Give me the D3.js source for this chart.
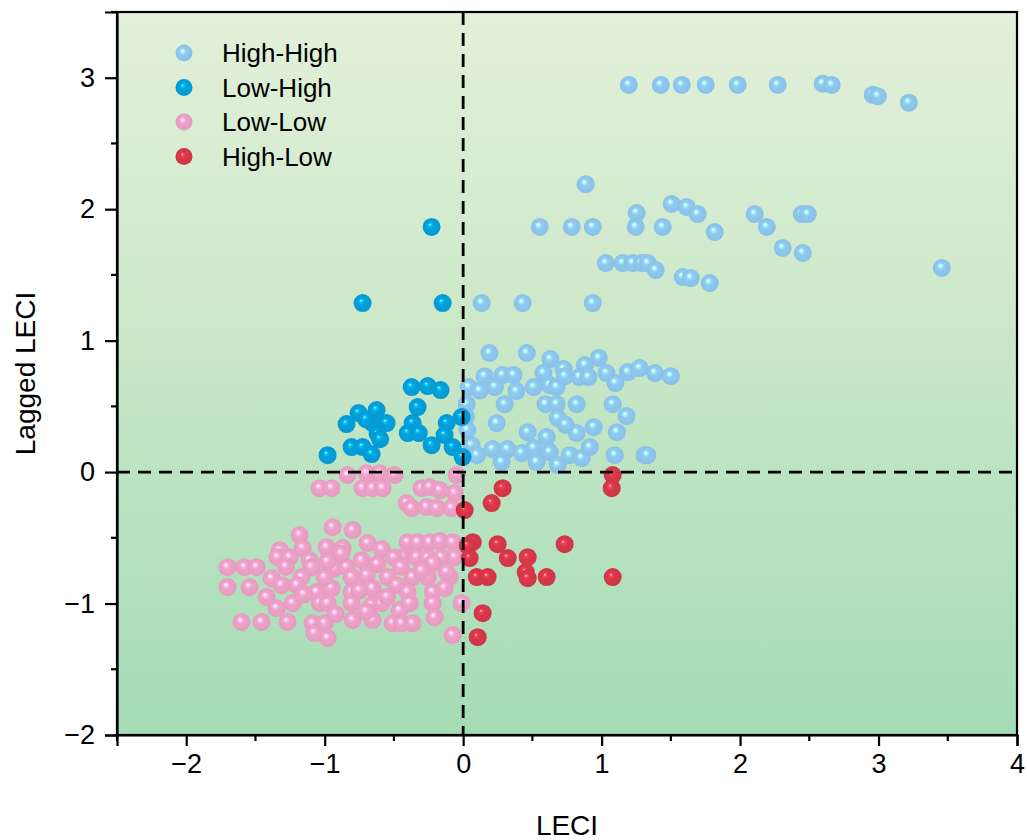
<!DOCTYPE html>
<html>
<head>
<meta charset="utf-8">
<script src="https://cdn.jsdelivr.net/npm/d3@7"></script>
<style>
  body { margin: 0; background: #fff; }
  svg text { font-family: "Liberation Sans", Arial, sans-serif; }
</style>
</head>
<body>
<svg id="chart" width="1027" height="840"></svg>
<script>
// ---------- data ----------
const categories = ["High-High", "Low-High", "Low-Low", "High-Low"];
const colors = ["#8fcaf1", "#05a0dc", "#efa2c8", "#d8384a"];

const highHigh = [
  [1.196,2.945],[1.427,2.945],[1.579,2.945],[1.752,2.945],[1.983,2.945],[2.272,2.945],
  [2.597,2.955],[2.662,2.945],[2.958,2.87],[2.995,2.86],[3.219,2.81],
  [0.885,2.19],[0.553,1.865],[0.784,1.865],[0.936,1.865],[1.246,1.865],[1.253,1.971],
  [1.441,1.865],[1.506,2.04],[1.615,2.017],[1.694,1.963],[1.817,1.826],[2.106,1.963],
  [2.193,1.865],[2.446,1.963],[2.489,1.963],[2.308,1.705],[2.453,1.667],[3.457,1.553],
  [1.030,1.59],[1.152,1.59],[1.225,1.59],[1.29,1.59],[1.333,1.59],[1.391,1.537],
  [1.586,1.484],[1.644,1.476],[1.781,1.438],[0.134,1.286],[0.43,1.286],[0.936,1.286],
  [0.19,0.906],[0.46,0.906],[0.63,0.86],[0.98,0.868],[0.04,0.647],[0.155,0.73],
  [0.285,0.738],[0.365,0.738],[0.23,0.647],[0.385,0.616],[0.51,0.647],[0.58,0.753],
  [0.725,0.784],[0.625,0.662],[0.675,0.647],[0.735,0.73],[0.88,0.814],[0.84,0.723],
  [0.905,0.723],[1.035,0.753],[1.10,0.677],[1.19,0.761],[1.275,0.791],[1.385,0.753],
  [1.50,0.73],[0.025,0.517],[0.30,0.517],[0.595,0.517],[0.675,0.517],[0.82,0.517],
  [1.08,0.517],[0.683,0.411],[1.18,0.426],[0.242,0.373],[0.466,0.304],[0.603,0.266],
  [0.82,0.297],[0.943,0.342],[1.11,0.304],[0.06,0.205],[0.10,0.129],[0.213,0.175],
  [0.32,0.175],[0.278,0.076],[0.423,0.145],[0.51,0.183],[0.53,0.076],[0.625,0.152],
  [0.683,0.053],[0.77,0.129],[0.856,0.107],[0.915,0.19],[1.095,0.129],[1.31,0.129],
  [1.33,0.129],[0.02,0.42],[0.03,0.32],[0.12,0.62],[0.74,0.36]
];
const lowHigh = [
  [-0.228,1.865],[-0.726,1.286],[-0.148,1.286],[-0.372,0.647],[-0.256,0.654],[-0.163,0.624],
  [-0.329,0.495],[-0.365,0.373],[-0.40,0.297],[-0.32,0.297],[-0.755,0.449],[-0.842,0.365],
  [-0.625,0.472],[-0.654,0.373],[-0.553,0.373],[-0.618,0.289],[-0.806,0.19],[-0.726,0.19],
  [-0.661,0.137],[-0.979,0.129],[-0.119,0.373],[-0.134,0.282],[-0.228,0.205],[-0.076,0.19],
  [-0.011,0.419],[-0.004,0.114],[-0.70,0.40],[-0.60,0.25]
];
const lowLow = [
  [-0.835,-0.023],[-0.697,-0.008],[-0.603,-0.008],[-0.495,-0.023],[-0.047,-0.023],
  [-1.037,-0.122],[-0.95,-0.122],[-0.726,-0.122],[-0.654,-0.122],[-0.582,-0.122],
  [-0.30,-0.122],[-0.242,-0.114],[-0.17,-0.137],[-0.061,-0.16],[-0.408,-0.236],
  [-0.372,-0.274],[-0.264,-0.266],[-0.191,-0.274],[-0.083,-0.274],
  [-0.943,-0.419],[-0.798,-0.441],[-1.181,-0.479],[-0.69,-0.54],[-0.986,-0.571],
  [-0.87,-0.578],[-0.589,-0.586],[-1.325,-0.594],[-1.159,-0.578],[-0.401,-0.533],
  [-0.329,-0.533],[-0.242,-0.533],[-0.17,-0.525],[-0.076,-0.533],[-1.34,-0.647],
  [-1.253,-0.647],[-1.109,-0.67],[-0.733,-0.67],[-0.437,-0.647],[-0.336,-0.647],
  [-0.256,-0.654],[-0.155,-0.647],[-0.061,-0.647],[-1.702,-0.723],[-1.579,-0.723],
  [-1.492,-0.723],[-1.095,-0.723],[-0.928,-0.731],[-0.842,-0.723],[-0.22,-0.693],
  [-1.383,-0.807],[-1.167,-0.799],[-0.806,-0.799],[-0.697,-0.784],[-0.546,-0.799],
  [-0.365,-0.799],[-0.256,-0.799],[-0.098,-0.799],[-1.702,-0.875],[-1.543,-0.875],
  [-1.311,-0.86],[-1.059,-0.913],[-0.95,-0.883],[-0.806,-0.913],[-0.654,-0.883],
  [-0.48,-0.86],[-0.401,-0.913],[-0.22,-0.913],[-0.134,-0.883],[-1.347,-1.035],
  [-1.231,-0.997],[-1.036,-0.997],[-0.979,-0.997],[-0.806,-0.997],[-0.661,-1.012],
  [-0.589,-0.997],[-0.459,-1.05],[-0.386,-0.997],[-0.22,-0.997],[-0.011,-0.997],
  [-1.6,-1.14],[-1.456,-1.14],[-1.268,-1.14],[-1.087,-1.15],[-1.0,-1.15],
  [-0.798,-1.126],[-0.654,-1.126],[-0.509,-1.15],[-0.444,-1.15],[-0.365,-1.15],
  [-0.206,-1.104],[-1.073,-1.225],[-0.979,-1.263],[-0.076,-1.24],
  [-1.2,-0.86],[-0.88,-0.62],[-0.62,-0.70],[-1.0,-0.80],[-0.55,-0.95],[-0.30,-0.75],
  [-0.92,-1.08],[-1.15,-0.93],[-0.75,-0.90],[-0.50,-0.65],[-1.28,-0.72],[-0.98,-0.68],
  [-0.45,-0.72],[-1.42,-0.95],[-0.70,-1.06],[-0.12,-0.76]
];
const highLow = [
  [1.08,-0.023],[1.073,-0.122],[0.285,-0.122],[0.206,-0.236],[0.011,-0.289],
  [0.069,-0.533],[0.033,-0.56],[0.249,-0.548],[0.047,-0.654],[0.322,-0.654],
  [0.466,-0.647],[0.733,-0.548],[0.098,-0.799],[0.177,-0.799],[0.452,-0.761],
  [0.466,-0.807],[0.603,-0.799],[1.08,-0.799],[0.141,-1.073],[0.105,-1.256]
];
const series = [highHigh, lowHigh, lowLow, highLow];

const xTicks = [-2, -1, 0, 1, 2, 3, 4];
const yTicks = [-2, -1, 0, 1, 2, 3];
const xDomain = [-2.5, 4];
const yDomain = [-2, 3.5];

// ---------- layout ----------
const svg = d3.select("#chart");
const L = 117, R = 1017, T = 12, B = 735;
const x = d3.scaleLinear().domain(xDomain).range([L, R]);
const y = d3.scaleLinear().domain(yDomain).range([B, T]);

const defs = svg.append("defs");
const bg = defs.append("linearGradient").attr("id", "bg")
  .attr("x1", 0).attr("y1", 0).attr("x2", 0).attr("y2", 1);
bg.append("stop").attr("offset", "0%").attr("stop-color", "#e3f0da");
bg.append("stop").attr("offset", "40%").attr("stop-color", "#cde9ca");
bg.append("stop").attr("offset", "100%").attr("stop-color", "#a4dcb5");

colors.forEach((c, i) => {
  const g = defs.append("radialGradient").attr("id", "ball" + i)
    .attr("cx", "50%").attr("cy", "50%").attr("r", "55%")
    .attr("fx", "40%").attr("fy", "36%");
  g.append("stop").attr("offset", "0%").attr("stop-color", "#ffffff");
  g.append("stop").attr("offset", "12%").attr("stop-color", d3.color(c).brighter(0.7).formatHex());
  g.append("stop").attr("offset", "35%").attr("stop-color", c);
  g.append("stop").attr("offset", "100%").attr("stop-color", d3.color(c).darker(0.15).formatHex());
});

svg.append("rect").attr("x", L).attr("y", T).attr("width", R - L).attr("height", B - T)
  .attr("fill", "url(#bg)");

// points
const radius = 9;
series.forEach((pts, i) => {
  svg.append("g").selectAll("circle").data(pts).join("circle")
    .attr("cx", d => x(d[0])).attr("cy", d => y(d[1])).attr("r", radius)
    .attr("fill", `url(#ball${i})`);
});

// dashed reference lines
svg.append("line").attr("x1", x(0)).attr("x2", x(0)).attr("y1", T).attr("y2", B)
  .attr("stroke", "#000").attr("stroke-width", 2.8).attr("stroke-dasharray", "13,8");
svg.append("line").attr("x1", L).attr("x2", R).attr("y1", y(0)).attr("y2", y(0))
  .attr("stroke", "#000").attr("stroke-width", 2.8).attr("stroke-dasharray", "13,8");

// frame
svg.append("rect").attr("x", L).attr("y", T).attr("width", R - L).attr("height", B - T)
  .attr("fill", "none").attr("stroke", "#000").attr("stroke-width", 2.2);

// axes
const fmt = d => d < 0 ? "\u2212" + Math.abs(d) : String(d);
const xAxis = d3.axisBottom(x).tickValues(xTicks).tickFormat(fmt).tickSize(11).tickPadding(8);
const yAxis = d3.axisLeft(y).tickValues(yTicks).tickFormat(fmt).tickSize(12).tickPadding(10);
const gx = svg.append("g").attr("transform", `translate(0,${B})`).call(xAxis);
const gy = svg.append("g").attr("transform", `translate(${L},0)`).call(yAxis);
[gx, gy].forEach(g => {
  g.select(".domain").attr("stroke-width", 2.2);
  g.selectAll(".tick line").attr("stroke-width", 2.2);
  g.selectAll(".tick text").attr("font-size", 27).attr("fill", "#000")
    .style("font-family", "'Liberation Sans', Arial, sans-serif");
});
// minor ticks
const xMinor = d3.range(-2.5, 4.01, 1);
const yMinor = d3.range(-1.5, 3.51, 1);
svg.append("g").selectAll("line").data(xMinor).join("line")
  .attr("x1", d => x(d)).attr("x2", d => x(d)).attr("y1", B).attr("y2", B + 6)
  .attr("stroke", "#000").attr("stroke-width", 2.2);
svg.append("g").selectAll("line").data(yMinor).join("line")
  .attr("y1", d => y(d)).attr("y2", d => y(d)).attr("x1", L).attr("x2", L - 6)
  .attr("stroke", "#000").attr("stroke-width", 2.2);

// axis titles
svg.append("text").attr("x", (L + R) / 2).attr("y", 835).attr("text-anchor", "middle")
  .attr("font-size", 28).attr("fill", "#000").text("LECI");
svg.append("text").attr("transform", `translate(35,${(T + B) / 2}) rotate(-90)`)
  .attr("text-anchor", "middle").attr("font-size", 28).attr("fill", "#000").text("Lagged LECI");

// legend
const legend = svg.append("g");
categories.forEach((c, i) => {
  const ly = 53 + i * 34.5;
  legend.append("circle").attr("cx", 184).attr("cy", ly).attr("r", 8.5)
    .attr("fill", `url(#ball${i})`);
  legend.append("text").attr("x", 222).attr("y", ly).attr("dy", "0.35em")
    .attr("font-size", 26).attr("fill", "#000").text(c);
});
</script>
</body>
</html>
